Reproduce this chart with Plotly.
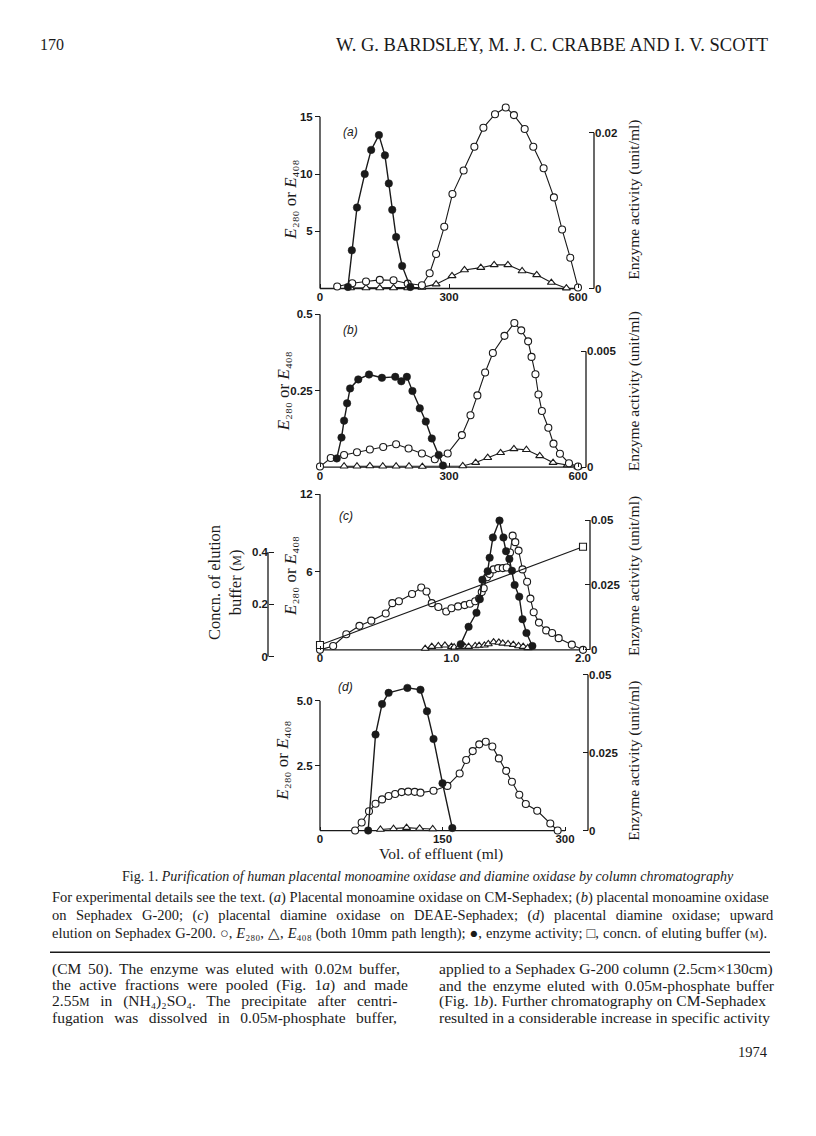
import plotly.graph_objects as go

# page is 816x1136; the browser adds an 8 px body margin, so the figure is 800x1120
PAGE_OFF = 8
W, H = 800, 1120
INK = "#1a1a1a"

# ---------------- data ----------------
# (a) CM-Sephadex
a_e280_vol = [40, 75, 107, 139, 171, 204, 237, 255, 270, 289, 308, 334, 359, 380, 407, 432, 451, 476, 496, 520, 544, 563, 582, 600]
a_e280 = [0.17, 0.46, 0.61, 0.75, 0.72, 0.43, 0.29, 1.33, 3.01, 5.39, 8.25, 10.31, 12.39, 14.05, 15.23, 15.81, 15.15, 13.93, 12.39, 10.51, 7.96, 5.15, 2.69, 0.09]
a_e408_vol = [71, 107, 139, 171, 204, 237, 270, 307, 336, 374, 405, 437, 470, 504, 538, 573]
a_e408 = [0.05, 0.05, 0.05, 0.05, 0.05, 0.1, 0.38, 1.1, 1.62, 1.82, 2.06, 2.06, 1.53, 1.19, 0.52, 0.03]
a_act_vol = [65, 74, 86, 104, 119, 137, 151, 160, 168, 177, 191, 210]
a_act = [0.0002, 0.0049, 0.0104, 0.0147, 0.0178, 0.0197, 0.0171, 0.0135, 0.0101, 0.0066, 0.0029, 0.0002]

# (b) Sephadex G-200
b_e280_vol = [0, 25, 56, 86, 116, 147, 177, 206, 237, 267, 297, 330, 350, 366, 384, 402, 429, 452, 468, 484, 492, 501, 508, 516, 531, 543, 558, 579, 600]
b_e280 = [0.002, 0.03, 0.04, 0.049, 0.058, 0.066, 0.075, 0.061, 0.045, 0.026, 0.045, 0.105, 0.17, 0.235, 0.31, 0.374, 0.43, 0.472, 0.448, 0.412, 0.361, 0.304, 0.238, 0.184, 0.129, 0.077, 0.044, 0.013, 0.002]
b_e408_vol = [56, 86, 116, 146, 177, 207, 238, 332, 362, 390, 420, 451, 480, 511, 542, 575, 600]
b_e408 = [0.003, 0.003, 0.004, 0.003, 0.003, 0.003, 0.002, 0.004, 0.015, 0.031, 0.047, 0.06, 0.057, 0.037, 0.015, 0.007, 0.001]
b_act_vol = [39, 50, 56, 63, 70, 89, 114, 144, 175, 189, 202, 215, 232, 246, 260, 276, 286]
b_act = [0.00038, 0.00128, 0.00201, 0.00276, 0.0034, 0.00379, 0.0040, 0.00386, 0.0039, 0.00371, 0.0039, 0.00329, 0.00254, 0.00197, 0.00124, 0.00053, 0.00007]

# (c) DEAE-Sephadex
c_e280_vol = [0, 0.1, 0.2, 0.3, 0.39, 0.5, 0.55, 0.6, 0.7, 0.77, 0.81, 0.85, 0.9, 0.96, 1.0, 1.05, 1.1, 1.14, 1.18, 1.21, 1.23, 1.245, 1.27, 1.29, 1.32, 1.355, 1.39, 1.42, 1.445, 1.465, 1.485, 1.51, 1.54, 1.575, 1.6, 1.625, 1.665, 1.72, 1.765, 1.815, 1.915, 2.0]
c_e280 = [0.0, 0.3, 1.2, 1.85, 2.25, 2.8, 3.6, 3.75, 4.3, 4.8, 4.5, 3.6, 3.3, 2.95, 3.2, 3.35, 3.45, 3.55, 3.75, 3.95, 4.45, 4.75, 5.6, 5.85, 6.2, 6.3, 6.3, 6.35, 7.5, 8.8, 8.3, 7.65, 6.2, 5.25, 3.95, 2.9, 2.1, 1.5, 1.3, 0.9, 0.4, 0.0]
c_e408_vol = [0.8, 0.85, 0.9, 0.95, 1.0, 1.02, 1.06, 1.1, 1.13, 1.18, 1.21, 1.25, 1.28, 1.32, 1.36, 1.39, 1.43, 1.47, 1.51, 1.545, 1.58]
c_e408 = [0.1, 0.25, 0.3, 0.35, 0.25, 0.2, 0.25, 0.25, 0.25, 0.3, 0.33, 0.35, 0.45, 0.6, 0.57, 0.5, 0.45, 0.4, 0.3, 0.25, 0.15]
c_act_vol = [1.07, 1.13, 1.19, 1.215, 1.235, 1.275, 1.29, 1.315, 1.365, 1.395, 1.415, 1.44, 1.46, 1.48, 1.515, 1.54, 1.57, 1.615]
c_act = [0.0022, 0.0089, 0.0143, 0.0195, 0.027, 0.0303, 0.0355, 0.0433, 0.0498, 0.0433, 0.038, 0.035, 0.0305, 0.025, 0.0205, 0.0118, 0.0065, 0.0015]
c_conc_vol = [0.0, 2.0]
c_conc = [0.045, 0.42]

# (d) upward elution on Sephadex G-200
d_e280_vol = [43, 51, 60, 68, 76, 84, 92, 100, 108, 116, 123, 139, 156, 171, 179, 187, 195, 203, 211, 219, 228, 235, 244, 252, 266, 282, 291]
d_e280 = [0.0, 0.31, 0.74, 1.03, 1.2, 1.33, 1.41, 1.48, 1.5, 1.49, 1.46, 1.53, 1.72, 2.2, 2.72, 3.06, 3.32, 3.42, 3.24, 2.78, 2.3, 1.88, 1.38, 1.02, 0.76, 0.27, 0.0]
d_e408_vol = [74, 90, 106, 122, 138]
d_e408 = [0.04, 0.07, 0.11, 0.08, 0.06]
d_act_vol = [59, 68, 76, 84, 107, 123, 131, 139, 150, 162]
d_act = [0.0, 0.0308, 0.0406, 0.0442, 0.0458, 0.0452, 0.0383, 0.0294, 0.0152, 0.0008]

# tick values / labels
a_xticks, a_xlabels = [0, 300, 600], ["0", "300", "600"]
a_yticks, a_ylabels = [5, 10, 15], ["5", "10", "15"]
a_rticks, a_rlabels = [0, 0.02], ["0", "0.02"]
b_xticks, b_xlabels = [0, 300, 600], ["0", "300", "600"]
b_yticks, b_ylabels = [0.25, 0.5], ["0.25", "0.5"]
b_rticks, b_rlabels = [0, 0.005], ["0", "0.005"]
c_xticks, c_xlabels = [0, 1.0, 2.0], ["0", "1.0", "2.0"]
c_yticks, c_ylabels = [6, 12], ["6", "12"]
c_rticks, c_rlabels = [0, 0.025, 0.05], ["0", "0.025", "0.05"]
c_cticks, c_clabels = [0, 0.2, 0.4], ["0", "0.2", "0.4"]
d_xticks, d_xlabels = [0, 150, 300], ["0", "150", "300"]
d_yticks, d_ylabels = [2.5, 5.0], ["2.5", "5.0"]
d_rticks, d_rlabels = [0, 0.025, 0.05], ["0", "0.025", "0.05"]

# ---------------- geometry (page pixels) ----------------
def lin(p, spec):
    (pa, va), (pb, vb) = spec
    return va + (p - pa) * (vb - va) / (pb - pa)

def px_x(p):
    return (p - PAGE_OFF) / W

def px_y(p):
    return 1 - (p - PAGE_OFF) / H

LEFT_AXIS_PX = 320
panels = [
    dict(n=0, xs=((320, 0), (578, 600)), xdom=(314, 600), ys=((289, 0), (117, 15)), ydom=(293, 100),
         rs=((289, 0), (133, 0.02)), rx=594,
         e280=(a_e280_vol, a_e280), e408=(a_e408_vol, a_e408), act=(a_act_vol, a_act),
         xt=(a_xticks, a_xlabels), yt=(a_yticks, a_ylabels), rt=(a_rticks, a_rlabels),
         label="(a)", lab_px=(341, 132), ymid=200, tx=291),
    dict(n=1, xs=((320, 0), (578, 600)), xdom=(314, 600), ys=((468, 0), (315, 0.5)), ydom=(472, 305),
         rs=((468, 0), (352, 0.005)), rx=586,
         e280=(b_e280_vol, b_e280), e408=(b_e408_vol, b_e408), act=(b_act_vol, b_act),
         xt=(b_xticks, b_xlabels), yt=(b_yticks, b_ylabels), rt=(b_rticks, b_rlabels),
         label="(b)", lab_px=(341, 331), ymid=392, tx=283),
    dict(n=2, xs=((320, 0), (583, 2.0)), xdom=(314, 600), ys=((651, 0), (495, 12)), ydom=(664, 488),
         rs=((651, 0), (521, 0.05)), rx=590,
         e280=(c_e280_vol, c_e280), e408=(c_e408_vol, c_e408), act=(c_act_vol, c_act),
         xt=(c_xticks, c_xlabels), yt=(c_yticks, c_ylabels), rt=(c_rticks, c_rlabels),
         label="(c)", lab_px=(337, 517), ymid=577, tx=291),
    dict(n=3, xs=((320, 0), (565, 300)), xdom=(314, 600), ys=((832, 0), (702, 5)), ydom=(836, 668),
         rs=((832, 0), (676, 0.05)), rx=588,
         e280=(d_e280_vol, d_e280), e408=(d_e408_vol, d_e408), act=(d_act_vol, d_act),
         xt=(d_xticks, d_xlabels), yt=(d_yticks, d_ylabels), rt=(d_rticks, d_rlabels),
         label="(d)", lab_px=(336, 688), ymid=762, tx=283),
]

TICKFONT = dict(family="Liberation Sans", size=11.5, color=INK, weight="bold")
SERIF = "Liberation Serif"

fig = go.Figure()
layout = dict(width=W, height=H, margin=dict(l=0, r=0, t=0, b=0),
              paper_bgcolor="white", plot_bgcolor="rgba(0,0,0,0)", showlegend=False)
shapes = []
annotations = []

def ann(text, x, y, size, xanchor="left", yanchor="middle", angle=0, family=SERIF, align="left"):
    annotations.append(dict(text=text, x=px_x(x), y=px_y(y), xref="paper", yref="paper",
                            xanchor=xanchor, yanchor=yanchor, showarrow=False, textangle=angle,
                            align=align, font=dict(family=family, size=size, color=INK)))

def spaced(text, px):
    # widen word gaps to imitate the justified setting of the printed page
    return f"<span style='word-spacing:{px}px'>{text}</span>" if px else text

def axis_common(tv, tt, ticks):
    return dict(tickvals=tv, ticktext=tt, ticks=ticks, ticklen=5, tickwidth=1.2, tickcolor=INK,
                showline=False, showgrid=False, zeroline=False, tickfont=TICKFONT)

E_TITLE = "<i>E</i>₂₈₀ or <i>E</i>₄₀₈"

yid = 1
for p in panels:
    xi = p["n"] + 1
    xkey = "xaxis" if xi == 1 else f"xaxis{xi}"
    xref = "x" if xi == 1 else f"x{xi}"
    ly, ry = yid, yid + 1
    yid += 2
    lkey = "yaxis" if ly == 1 else f"yaxis{ly}"
    lref = "y" if ly == 1 else f"y{ly}"
    rkey, rref = f"yaxis{ry}", f"y{ry}"

    y0px = p["ys"][0][0]
    xa = axis_common(p["xt"][0], p["xt"][1], "inside")
    xa.update(domain=[px_x(p["xdom"][0]), px_x(p["xdom"][1])],
              range=[lin(p["xdom"][0], p["xs"]), lin(p["xdom"][1], p["xs"])],
              anchor="free", position=px_y(y0px), ticklen=4)
    layout[xkey] = xa
    ydom = [px_y(p["ydom"][0]), px_y(p["ydom"][1])]
    ya = axis_common(p["yt"][0], p["yt"][1], "outside")
    ya.update(domain=ydom, range=[lin(p["ydom"][0], p["ys"]), lin(p["ydom"][1], p["ys"])],
              anchor="free", position=px_x(LEFT_AXIS_PX), side="left")
    layout[lkey] = ya
    ra = axis_common(p["rt"][0], p["rt"][1], "inside")
    ra.update(overlaying=lref, range=[lin(p["ydom"][0], p["rs"]), lin(p["ydom"][1], p["rs"])],
              anchor="free", position=px_x(p["rx"]), side="right")
    layout[rkey] = ra

    # axis lines (span only to the last tick, as in the original)
    line = dict(color=INK, width=1.3)
    shapes.append(dict(type="line", xref=xref, yref="paper", x0=p["xt"][0][0], x1=p["xt"][0][-1],
                       y0=px_y(y0px), y1=px_y(y0px), line=line, layer="below"))
    shapes.append(dict(type="line", xref="paper", yref=lref, x0=px_x(LEFT_AXIS_PX), x1=px_x(LEFT_AXIS_PX),
                       y0=0, y1=p["yt"][0][-1], line=line, layer="below"))
    shapes.append(dict(type="line", xref="paper", yref=rref, x0=px_x(p["rx"]), x1=px_x(p["rx"]),
                       y0=0, y1=p["rt"][0][-1], line=line, layer="below"))

    # traces
    fig.add_trace(go.Scatter(x=p["e408"][0], y=p["e408"][1], xaxis=xref, yaxis=lref, mode="lines+markers",
                             line=dict(color=INK, width=1.1), cliponaxis=False,
                             marker=dict(symbol="triangle-up", size=7, color="white",
                                         line=dict(color=INK, width=1.1)), name="E408"))
    fig.add_trace(go.Scatter(x=p["e280"][0], y=p["e280"][1], xaxis=xref, yaxis=lref, mode="lines+markers",
                             line=dict(color=INK, width=1.1), cliponaxis=False,
                             marker=dict(symbol="circle", size=7, color="white",
                                         line=dict(color=INK, width=1.1)), name="E280"))
    fig.add_trace(go.Scatter(x=p["act"][0], y=p["act"][1], xaxis=xref, yaxis=rref, mode="lines+markers",
                             line=dict(color=INK, width=1.4), cliponaxis=False,
                             marker=dict(symbol="circle", size=7.5, color=INK,
                                         line=dict(color=INK, width=0.5)), name="Enzyme activity"))

    if p["n"] == 2:
        ckey, cref = f"yaxis{yid}", f"y{yid}"
        yid += 1
        cs = ((658, 0), (553, 0.4))
        ca = axis_common(c_cticks, c_clabels, "inside")
        ca.update(overlaying=lref, range=[lin(p["ydom"][0], cs), lin(p["ydom"][1], cs)],
                  anchor="free", position=px_x(268), side="left")
        layout[ckey] = ca
        shapes.append(dict(type="line", xref="paper", yref=cref, x0=px_x(268), x1=px_x(268),
                           y0=0, y1=c_cticks[-1], line=line, layer="below"))
        fig.add_trace(go.Scatter(x=c_conc_vol, y=c_conc, xaxis=xref, yaxis=cref, mode="lines+markers",
                                 line=dict(color=INK, width=1.1), cliponaxis=False,
                                 marker=dict(symbol="square", size=7, color="white",
                                             line=dict(color=INK, width=1.1)), name="Concn."))
        ann("Concn. of elution<br>buffer (<span style='font-size:12px'>M</span>)", 225, 584, 16.5,
            xanchor="center", angle=-90, align="center")

    # panel label and axis titles
    ann("<i>" + p["label"] + "</i>", p["lab_px"][0], p["lab_px"][1], 12, family="Liberation Sans")
    ann(E_TITLE, p["tx"], p["ymid"], 17, xanchor="center", angle=-90)
    ann("Enzyme activity (unit/ml)", 634, p["ymid"], 15.5, xanchor="center", angle=-90)

ann("Vol. of effluent (ml)", 441, 856, 15.5, xanchor="center")

# page text
ann("170", 38, 45, 16)
ann("W. G. BARDSLEY, M. J. C. CRABBE AND I. V. SCOTT", 770, 45, 18.5, xanchor="right")
ann("Fig. 1. <i>Purification of human placental monoamine oxidase and diamine oxidase by column chromatography</i>",
    428, 878, 14, xanchor="center")
cap = [
    "For experimental details see the text. (<i>a</i>) Placental monoamine oxidase on CM-Sephadex; (<i>b</i>) placental monoamine oxidase",
    "on Sephadex G-200; (<i>c</i>) placental diamine oxidase on DEAE-Sephadex; (<i>d</i>) placental diamine oxidase; upward",
    "elution on Sephadex G-200. ○, <i>E</i>₂₈₀, △, <i>E</i>₄₀₈ (both 10mm path length); ●, enzyme activity; □, concn. of eluting buffer (<span style='font-size:10px'>M</span>).",
]
cap_ws = [0, 5.9, 0.4]
for i, t in enumerate(cap):
    ann(spaced(t, cap_ws[i]), 50, 899 + 18 * i, 14.5)
shapes.append(dict(type="line", xref="paper", yref="paper", x0=px_x(50), x1=px_x(770),
                   y0=px_y(954), y1=px_y(954), line=dict(color=INK, width=1.6)))
SC = "<span style='font-size:11.5px'>M</span>"
left_col = [
    "(CM 50). The enzyme was eluted with 0.02" + SC + " buffer,",
    "the active fractions were pooled (Fig. 1<i>a</i>) and made",
    "2.55" + SC + " in (NH₄)₂SO₄. The precipitate after centri-",
    "fugation was dissolved in 0.05" + SC + "-phosphate buffer,",
]
right_col = [
    "applied to a Sephadex G-200 column (2.5cm×130cm)",
    "and the enzyme eluted with 0.05" + SC + "-phosphate buffer",
    "(Fig. 1<i>b</i>). Further chromatography on CM-Sephadex",
    "resulted in a considerable increase in specific activity",
]
left_ws = [2.9, 4.5, 7.0, 6.6]
right_ws = [0, 2.3, 0.2, 0]
for i, t in enumerate(left_col):
    ann(spaced(t, left_ws[i]), 50, 971 + 16 * i, 15.5)
for i, t in enumerate(right_col):
    ann(spaced(t, right_ws[i]), 437, 971 + 16 * i, 15.5)
ann("1974", 770, 1054, 14.5, xanchor="right")

layout["shapes"] = shapes
layout["annotations"] = annotations
fig.update_layout(**layout)
fig.write_html("out.html")
